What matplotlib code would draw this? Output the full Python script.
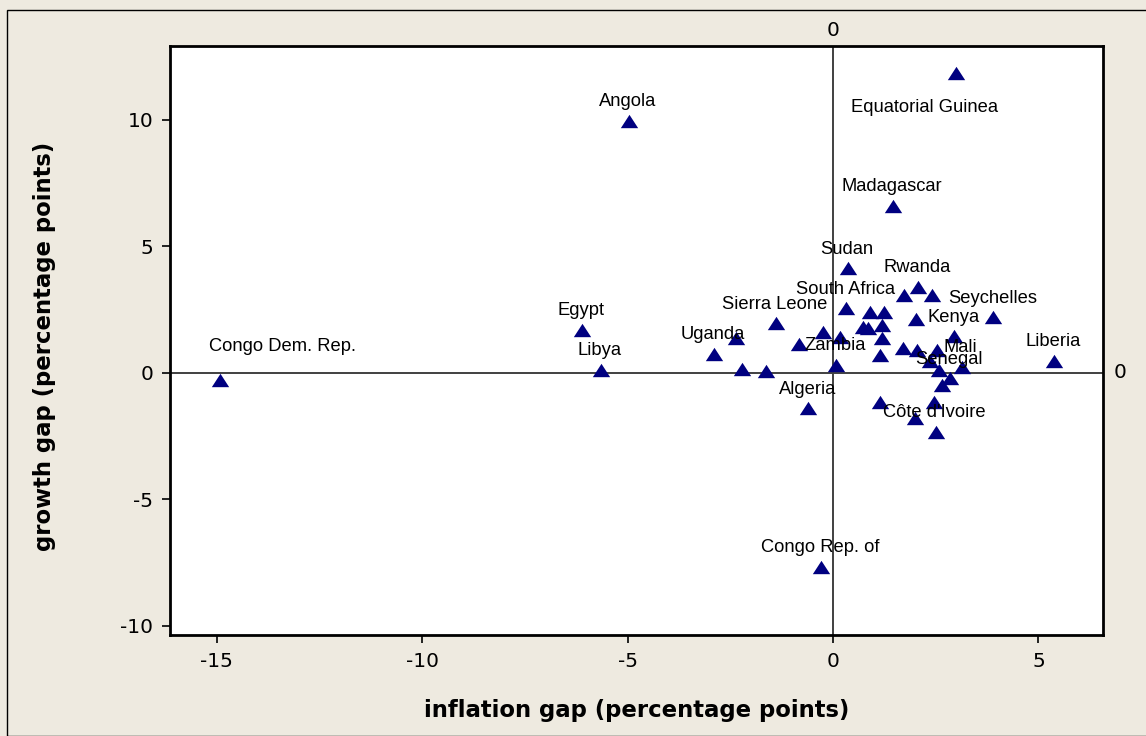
import matplotlib
matplotlib.use("Agg")
import matplotlib.pyplot as plt
from matplotlib.patches import Rectangle

# ---- data ----
inflation_gap = [-14.93, -4.97, -6.11, -5.65, 2.99, 1.46, -0.29, 5.38, 3.90, 0.36,
                 2.06, 1.73, 2.40, 0.32, 0.90, 1.25, 2.02, -1.40, 1.19, 0.74,
                 0.84, -0.24, 0.17, 1.19, 2.95, -2.37, -0.82, -2.91, 1.71, 2.04,
                 2.53, 1.14, 0.07, -2.22, -1.63, 2.36, 3.13, 2.57, 2.85, 2.65,
                 -0.60, 1.14, 2.45, 2.00, 2.50]
growth_gap = [-0.28, 9.96, 1.70, 0.12, 11.86, 6.60, -7.67, 0.47, 2.19, 4.14,
              3.41, 3.08, 3.08, 2.56, 2.40, 2.40, 2.12, 1.96, 1.90, 1.83,
              1.77, 1.61, 1.43, 1.37, 1.44, 1.37, 1.13, 0.75, 0.98, 0.91,
              0.91, 0.71, 0.32, 0.15, 0.08, 0.45, 0.25, 0.12, -0.21, -0.47,
              -1.40, -1.17, -1.17, -1.79, -2.32]
country = ["Congo Dem. Rep.", "Angola", "Egypt", "Libya", "Equatorial Guinea",
           "Madagascar", "Congo Rep. of", "Liberia", "Seychelles", "Sudan",
           "Rwanda", "", "", "South Africa", "", "", "", "Sierra Leone", "", "",
           "", "", "", "", "Kenya", "", "", "Uganda", "", "",
           "", "", "Zambia", "", "", "", "Mali", "", "Senegal", "",
           "Algeria", "", "", "", "Côte d'Ivoire"]
x_ticks = [-15, -10, -5, 0, 5]
y_ticks = [-10, -5, 0, 5, 10]
x_title = "inflation gap (percentage points)"
y_title = "growth gap (percentage points)"

# ---- figure ----
W, H, DPI = 1146, 736, 100
bg = "#EEEAE0"
fig = plt.figure(figsize=(W / DPI, H / DPI), dpi=DPI, facecolor=bg)
fig.patches.append(Rectangle((7 / W, 0), 1.2, 1 - 10 / H, transform=fig.transFigure,
                             fill=False, edgecolor="black", linewidth=1.0))

ax = fig.add_axes([170 / W, 1 - 635 / H, (1103 - 170) / W, (635 - 46) / H])
ax.set_facecolor("white")
ax.set_xlim(-16.14, 6.57)
ax.set_ylim(-10.36, 12.92)

ax.axhline(0, color="#404040", linewidth=1.4, zorder=1)
ax.axvline(0, color="#404040", linewidth=1.4, zorder=1)

tri = [(-1, -0.77), (1, -0.77), (0, 0.77), (-1, -0.77)]
ax.scatter(inflation_gap, growth_gap, marker=tri, s=12.5 ** 2, color="#000080",
           linewidths=0, zorder=3)

special = {"Congo Dem. Rep.": (63, 33), "Equatorial Guinea": (-31, -35)}
for xv, yv, name in zip(inflation_gap, growth_gap, country):
    if not name:
        continue
    dx, dy = special.get(name, (-1, 19))
    ax.annotate(name, (xv, yv), xytext=(dx, dy), textcoords="offset pixels",
                ha="center", va="center", fontsize=13.2, family="Liberation Sans",
                color="black", zorder=4)

ax.set_xticks(x_ticks)
ax.set_yticks(y_ticks)
ax.set_xticklabels([str(v) for v in x_ticks])
ax.set_yticklabels([str(v) for v in y_ticks])
ax.tick_params(direction="out", length=6, width=1.2, labelsize=14.5, pad=6,
               colors="black")
for s in ax.spines.values():
    s.set_linewidth(2.0)
    s.set_color("black")

ax.set_xlabel(x_title, fontsize=16.4, fontweight="bold")
ax.set_ylabel(y_title, fontsize=16.4, fontweight="bold")
ax.xaxis.set_label_coords(0.5, -(710 - 635) / 589)
ax.xaxis.label.set_va("center")
ax.yaxis.set_label_coords(-(170 - 45) / 933, 0.49)
ax.yaxis.label.set_va("center")

# reference-line labels
ax.annotate("0", (0, 1), xycoords=("data", "axes fraction"), xytext=(0, 16),
            textcoords="offset pixels", ha="center", va="center", fontsize=14.5)
ax.annotate("0", (1, 0), xycoords=("axes fraction", "data"), xytext=(17, 0),
            textcoords="offset pixels", ha="center", va="center", fontsize=14.5)

fig.savefig("out.png", dpi=DPI, facecolor=bg)
